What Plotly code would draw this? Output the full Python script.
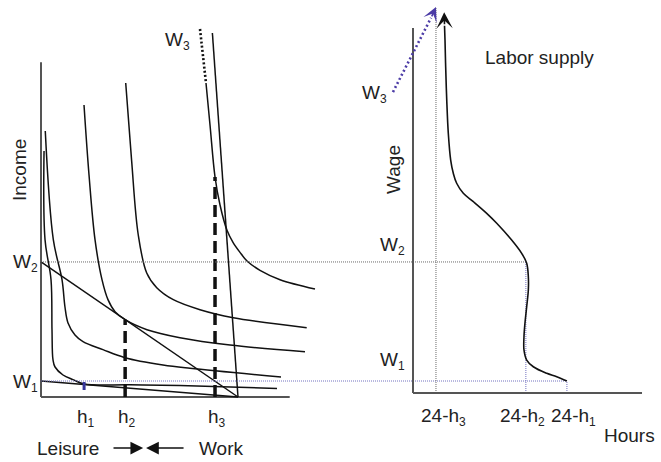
import plotly.graph_objects as go

# ---------------- data ----------------
# Hourly wage rates and the length of the day
W1, W2, W3 = 1.0, 8.44, 175.0
DAY = 24.0

# Chosen leisure hours at each wage
h1, h2, h3 = 5.25, 10.25, 21.2
h2_income = W2 * (DAY - h2)      # tangency with the W2 budget line
h3_income = 330.0                # tangency height on the W3 indifference curve
w3_line_top = 546.0              # highest income drawn on the W3 budget line
h1_tick_income = [10.5, 22.5]    # short marker at h1

# Indifference curves (leisure hours, income)
ic1_leisure = [0.37, 0.49, 1.22, 1.34, 1.46, 1.71, 2.68, 3.90, 5.25, 10.8, 16.9, 28.75]
ic1_income = [369, 236, 176, 101, 56, 45, 33, 26, 19.5, 18.3, 17.2, 12.8]

ic2_leisure = [0.52, 1.50, 2.56, 2.92, 3.29, 4.14, 5.12, 7.55, 10.23, 14.86, 18.15, 29.24]
ic2_income = [399, 236, 176, 135, 111, 93, 83, 71, 59, 48, 43, 30]

ic3_leisure = [5.24, 5.85, 6.58, 7.43, 8.16, 9.02, 10.25, 12.91, 16.93, 23.03, 32.16]
ic3_income = [438, 333, 236, 176, 146, 128, 116, 101, 89, 78, 68]

ic4_leisure = [10.32, 11.03, 11.85, 12.88, 14.10, 16.12, 19.37, 23.43, 32.37]
ic4_income = [471, 356, 243, 186, 164, 146, 131, 119, 104]

ic5_leisure = [20.10, 20.59, 21.20, 21.81, 22.66, 23.39, 24.24, 25.10, 26.68, 29.12, 33.38]
ic5_income = [471, 408, 330, 288, 250, 232, 217, 204, 190, 176, 162]
ic5_ext_leisure = [19.37, 20.10]
ic5_ext_income = [552, 471]

# Labor supply curve (hours worked, wage)
ls_hours = [18.75, 17.51, 16.29, 14.66, 13.85, 13.52, 13.52, 13.64, 13.85, 14.05, 14.05,
            13.85, 13.24, 12.02, 10.20, 8.98, 7.35, 6.13, 5.32, 4.91, 4.59, 4.30, 4.11,
            3.98, 3.90, 3.84]
ls_wage = [1.0, 1.27, 1.48, 1.89, 2.31, 2.94, 3.77, 4.61, 5.64, 6.69, 7.52,
           8.36, 8.98, 9.81, 10.86, 11.48, 12.21, 12.73, 13.36, 13.98, 14.81, 16.48, 18.56,
           20.64, 22.30, 23.2]
ls_tip_wage = 24.05

# Pointer from the W3 label toward the top of the wage axis
w3_pointer_hours = [-2.44, 2.2]
w3_pointer_wage = [19.06, 23.7]
w3_pointer_tip_wage = 24.375

# Axis extents
left_leisure_end, left_income_top = 30.3, 502.0
right_hours_end, right_wage_top, right_wage_floor = 27.9, 23.06, 0.25

# ---------------- geometry & style ----------------
FIG_W, FIG_H = 661, 462
LEFT_X0, BASE_Y0 = 41, 397
RIGHT_X0 = 413
PX_PER_HOUR = 197 / 24
PX_PER_INCOME = 2 / 3
PX_PER_WAGE = 24 * PX_PER_INCOME

x_left_range = [-LEFT_X0 / PX_PER_HOUR, (FIG_W - LEFT_X0) / PX_PER_HOUR]
y_left_range = [-(FIG_H - BASE_Y0) / PX_PER_INCOME, BASE_Y0 / PX_PER_INCOME]
x_right_range = [-RIGHT_X0 / PX_PER_HOUR, (FIG_W - RIGHT_X0) / PX_PER_HOUR]
y_right_range = [-(FIG_H - BASE_Y0) / PX_PER_WAGE, BASE_Y0 / PX_PER_WAGE]
left_axis_in_hours = -(RIGHT_X0 - LEFT_X0) / PX_PER_HOUR

FONT = "Liberation Sans, Arial, Helvetica, sans-serif"
INK = "#111111"
TEXT = "#222222"
AXIS = "#555555"
GUIDE_GREY = "#6a6a6a"
GUIDE_BLUE = "#7272c0"
ARROW_BLUE = "#4b3ba6"
FS = 19
SUB_FS = 12

fig = go.Figure()


def sub(base, idx):
    return f'{base}<sub><span style="font-size:{SUB_FS}px">{idx}</span></sub>'


def line(x, y, panel="L", color=INK, width=1.5, dash=None, shape="spline"):
    xa, ya = ("x", "y") if panel == "L" else ("x2", "y2")
    fig.add_trace(go.Scatter(
        x=x, y=y, xaxis=xa, yaxis=ya, mode="lines",
        line=dict(color=color, width=width, dash=dash, shape=shape, smoothing=1.0),
        hoverinfo="skip", showlegend=False))


# guides linking the two panels
line([left_axis_in_hours, DAY - h2], [W2, W2], "R", GUIDE_GREY, 1, "1px,1px", "linear")
line([left_axis_in_hours, DAY - h1], [W1, W1], "R", GUIDE_BLUE, 1, "1px,1px", "linear")
line([DAY - h3, DAY - h3], [right_wage_floor, w3_pointer_tip_wage], "R", GUIDE_GREY, 1, "1px,1px", "linear")
line([DAY - h2, DAY - h2], [right_wage_floor, W2], "R", GUIDE_BLUE, 1, "1px,1px", "linear")
line([DAY - h1, DAY - h1], [right_wage_floor, W1], "R", GUIDE_BLUE, 1, "1px,1px", "linear")

# left panel axes
line([0, 0], [0, left_income_top], "L", AXIS, 2, None, "linear")
line([0, left_leisure_end], [0, 0], "L", AXIS, 2, None, "linear")

# budget lines
line([0, DAY], [W1 * DAY, 0], "L", INK, 1.5, None, "linear")
line([0, DAY], [W2 * DAY, 0], "L", INK, 1.5, None, "linear")
line([DAY - w3_line_top / W3, DAY], [w3_line_top, 0], "L", INK, 1.5, None, "linear")

# indifference curves
for xs, ys in [(ic1_leisure, ic1_income), (ic2_leisure, ic2_income),
               (ic3_leisure, ic3_income), (ic4_leisure, ic4_income),
               (ic5_leisure, ic5_income)]:
    line(xs, ys, "L", INK, 1.5)
line(ic5_ext_leisure, ic5_ext_income, "L", INK, 2.6, "2px,2.2px", "linear")

# chosen leisure markers
line([h2, h2], [0, h2_income], "L", INK, 3.5, "12px,6px", "linear")
line([h3, h3], [0, h3_income], "L", INK, 3.5, "12px,6px", "linear")
line([h1, h1], h1_tick_income, "L", "#34349a", 3, None, "linear")

# right panel axes
line([0, 0], [right_wage_floor, right_wage_top], "R", AXIS, 2, None, "linear")
line([0, right_hours_end], [right_wage_floor, right_wage_floor], "R", AXIS, 2, None, "linear")

# labor supply curve
line(ls_hours, ls_wage, "R", INK, 1.6)
line(w3_pointer_hours, w3_pointer_wage, "R", ARROW_BLUE, 2.6, "2px,2.6px", "linear")

annotations = []


def text(t, x, y, panel="L", size=FS, **kw):
    xa, ya = ("x", "y") if panel == "L" else ("x2", "y2")
    d = dict(text=t, x=x, y=y, xref=xa, yref=ya, showarrow=False,
             font=dict(family=FONT, size=size, color=TEXT))
    d.update(kw)
    annotations.append(d)


def arrow(x, y, ax, ay, panel, color, head, size, width):
    xa, ya = ("x", "y") if panel == "L" else ("x2", "y2")
    annotations.append(dict(x=x, y=y, ax=ax, ay=ay, xref=xa, yref=ya, axref=xa, ayref=ya,
                            text="", showarrow=True, arrowhead=head, arrowsize=size,
                            arrowwidth=width, arrowcolor=color, standoff=0, startstandoff=0))


# arrowheads
arrow(ls_hours[-1] - 0.04, ls_tip_wage, ls_hours[-1], ls_wage[-1], "R", INK, 3, 1.7, 1.6)
arrow(DAY - h3, w3_pointer_tip_wage, w3_pointer_hours[-1], w3_pointer_wage[-1], "R", ARROW_BLUE, 3, 1.5, 1.6)

# leisure / work direction arrows
arrow(12.45, -76.5, 8.65, -76.5, "L", INK, 2, 1.7, 1.5)
arrow(12.8, -76.5, 17.55, -76.5, "L", INK, 2, 1.7, 1.5)

# left panel labels
text("Income", -2.6, 340, "L", textangle=-90)
text(sub("W", 2), 0, W2 * DAY, "L", xanchor="right", yanchor="middle", xshift=-1, yshift=-1)
text(sub("W", 1), 0, W1 * DAY, "L", xanchor="right", yanchor="middle", xshift=-1, yshift=-2)
text(sub("W", 3), ic5_ext_leisure[0], ic5_ext_income[0], "L", xanchor="right", yanchor="top",
     xshift=-8, yshift=2)
for lbl, hv in [(sub("h", 1), h1), (sub("h", 2), h2), (sub("h", 3), h3)]:
    text(lbl, hv, 0, "L", xanchor="center", yanchor="top", xshift=2, yshift=-7)
text("Leisure", 3.23, -76.5, "L")
text("Work", 21.93, -76.5, "L")

# right panel labels
text("Wage", -2.44, 14.25, "R", textangle=-90)
text("Labor supply", 15.47, 21.19, "R")
text(sub("W", 3), w3_pointer_hours[0], w3_pointer_wage[0], "R", xanchor="right", yanchor="middle",
     xshift=-4, yshift=-2)
text(sub("W", 2), 0, W2, "R", xanchor="right", yanchor="bottom", xshift=-6, yshift=2)
text(sub("W", 1), 0, W1, "R", xanchor="right", yanchor="bottom", xshift=-6, yshift=6)
for lbl, hv, dx in [(sub("24-h", 3), DAY - h3, 8), (sub("24-h", 2), DAY - h2, -3),
                    (sub("24-h", 1), DAY - h1, 7)]:
    text(lbl, hv, right_wage_floor, "R", xanchor="center", yanchor="top", xshift=dx, yshift=-10)
text("Hours", 23.03, -2.375, "R", xanchor="left")

axis_common = dict(visible=False, showgrid=False, zeroline=False, fixedrange=True)
fig.update_layout(
    width=FIG_W, height=FIG_H, autosize=False,
    margin=dict(l=0, r=0, t=0, b=0, pad=0),
    paper_bgcolor="white", plot_bgcolor="rgba(0,0,0,0)",
    showlegend=False,
    xaxis=dict(range=x_left_range, domain=[0, 1], anchor="y", **axis_common),
    yaxis=dict(range=y_left_range, domain=[0, 1], anchor="x", **axis_common),
    xaxis2=dict(range=x_right_range, overlaying="x", anchor="y2", **axis_common),
    yaxis2=dict(range=y_right_range, overlaying="y", anchor="x2", **axis_common),
    annotations=annotations,
    font=dict(family=FONT, color=TEXT),
)

fig.write_html("out.html", config={"displayModeBar": False, "staticPlot": True})
